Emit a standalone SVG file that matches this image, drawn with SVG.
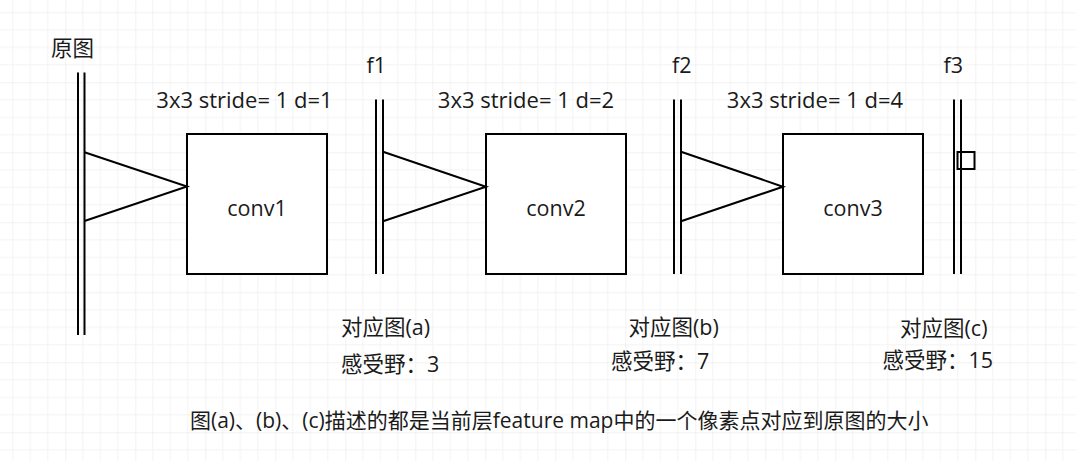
<svg xmlns="http://www.w3.org/2000/svg" width="1076" height="461" viewBox="0 0 1076 461">
<defs>
<pattern id="grid" x="-4.7" y="12.3" width="70" height="70" patternUnits="userSpaceOnUse">
<path d="M17.5 0V70M35 0V70M52.5 0V70M0 17.5H70M0 35H70M0 52.5H70" stroke="#f3f3f3" stroke-width="1" fill="none"/>
<path d="M0 0V70M0 0H70" stroke="#e6e6e6" stroke-width="1" fill="none"/>
</pattern>
<style>
text{font-family:"Open Sans","Noto Sans CJK SC",sans-serif;font-size:21.5px;fill:#1a1a1a}
.box{fill:#ffffff;stroke:#000000;stroke-width:2}
.bar{stroke:#000000;stroke-width:2;fill:none}
.edge{stroke:#000000;stroke-width:2;fill:none}
.mid{text-anchor:middle}
.lbl{font-size:22px}
.cap{font-size:21px}
</style>
</defs>
<rect width="1076" height="461" fill="#ffffff"/>
<rect width="1076" height="461" fill="url(#grid)"/>

<g id="input">
<text x="51" y="56">原图</text>
<path class="bar" d="M78 72.5V335M84.5 72.5V335"/>
</g>

<g id="f1">
<text x="366.5" y="72.5">f1</text>
<path class="bar" d="M376 99.5V274M383 99.5V274"/>
</g>

<g id="f2">
<text x="672" y="72.5">f2</text>
<path class="bar" d="M674 99.5V274M681 99.5V274"/>
</g>

<g id="f3">
<text x="943.5" y="72.5">f3</text>
<path class="bar" d="M954 99.5V274M961 99.5V274"/>
<rect class="box" x="957.5" y="152" width="17" height="17" style="fill:none"/>
</g>

<g id="conv1">
<text x="244.5" y="108" class="mid lbl">3x3 stride= 1 d=1</text>
<rect class="box" x="187" y="134" width="140" height="140"/>
<text x="257" y="215.5" class="mid">conv1</text>
</g>

<g id="conv2">
<text x="526" y="107.7" class="mid lbl">3x3 stride= 1 d=2</text>
<rect class="box" x="486" y="134" width="140" height="140"/>
<text x="556" y="215.5" class="mid">conv2</text>
</g>

<g id="conv3">
<text x="815" y="107.7" class="mid lbl">3x3 stride= 1 d=4</text>
<rect class="box" x="783" y="134" width="140" height="140"/>
<text x="853" y="215.5" class="mid">conv3</text>
</g>

<g id="connectors">
<path class="edge" d="M84.5 152.3L187 186.5L84.5 221"/>
<path class="edge" d="M383 151.7L486 186.7L383 221.3"/>
<path class="edge" d="M681 151.7L783 186.7L681 221.3"/>
</g>

<g id="label-a">
<text x="341" y="335">对应图(a)</text>
<text x="341" y="371.5">感受野：3</text>
</g>
<g id="label-b">
<text x="628.5" y="335">对应图(b)</text>
<text x="611" y="368.5">感受野：7</text>
</g>
<g id="label-c">
<text x="900" y="335.5">对应图(c)</text>
<text x="882.5" y="368.3">感受野：15</text>
</g>

<g id="caption">
<text x="190" y="428" class="cap">图(a)、(b)、(c)描述的都是当前层feature map中的一个像素点对应到原图的大小</text>
</g>
</svg>
